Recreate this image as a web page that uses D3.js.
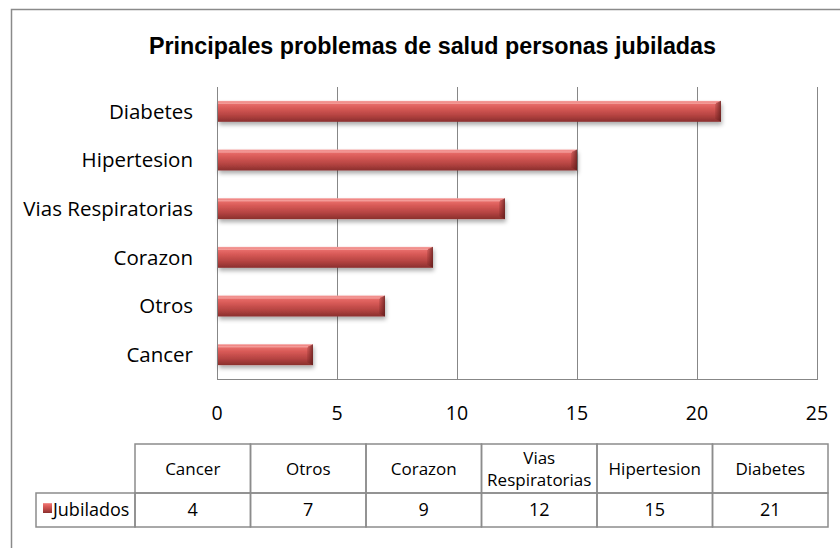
<!DOCTYPE html>
<html>
<head>
<meta charset="utf-8">
<script src="https://cdn.jsdelivr.net/npm/d3@7"></script>
<style>
  body { margin: 0; background: #fff; }
  svg { display: block; }
</style>
</head>
<body>
<div id="container"></div>
<script>
/**
 * CONSTANTS AND GLOBALS
 * */
const width = 840,
  height = 548;

// data (table order, bottom bar first)
const categories = ["Cancer", "Otros", "Corazon", "Vias Respiratorias", "Hipertesion", "Diabetes"];
const jubilados = [4, 7, 9, 12, 15, 21];
const seriesName = "Jubilados";
const xTicks = [0, 5, 10, 15, 20, 25];
const title = "Principales problemas de salud personas jubiladas";

const plot = { left: 217, right: 817, top: 87, bottom: 379 };
const table = { left: 135, right: 828, top: 444, mid: 493, bottom: 527, legendLeft: 36 };

const labelFont = "'Open Sans', 'Noto Sans', sans-serif";

const data = categories.map((c, i) => ({ cat: c, value: jubilados[i] }));

/**
 * SVG
 * */
const svg = d3.select("#container")
  .append("svg")
  .attr("width", width)
  .attr("height", height);

const defs = svg.append("defs");

// vertical gradient for the cylinder look
const grad = defs.append("linearGradient")
  .attr("id", "barGrad")
  .attr("x1", 0).attr("y1", 0).attr("x2", 0).attr("y2", 1);
[
  [0, "#f5a3a1"],
  [0.12, "#ea6f6c"],
  [0.35, "#d85a57"],
  [0.7, "#b44341"],
  [1, "#8a2f2d"]
].forEach(([o, c]) => grad.append("stop").attr("offset", o).attr("stop-color", c));

const capGrad = defs.append("linearGradient")
  .attr("id", "capGrad")
  .attr("x1", 0).attr("y1", 0).attr("x2", 1).attr("y2", 0);
capGrad.append("stop").attr("offset", 0).attr("stop-color", "#6e1f1e").attr("stop-opacity", 0.15);
capGrad.append("stop").attr("offset", 1).attr("stop-color", "#5a1a19").attr("stop-opacity", 0.75);

const shadow = defs.append("filter")
  .attr("id", "shadow")
  .attr("x", "-5%").attr("y", "-30%").attr("width", "110%").attr("height", "180%");
shadow.append("feDropShadow")
  .attr("dx", 1).attr("dy", 3)
  .attr("stdDeviation", 2)
  .attr("flood-color", "#000")
  .attr("flood-opacity", 0.33);

// outer chart border (cut by the window on right and bottom)
svg.append("rect")
  .attr("x", 11.5).attr("y", 9.5)
  .attr("width", 860).attr("height", 600)
  .attr("fill", "none")
  .attr("stroke", "#8a8a8a")
  .attr("stroke-width", 1.5);

// title
svg.append("text")
  .attr("x", (149 + 716) / 2)
  .attr("y", 53.5)
  .attr("text-anchor", "middle")
  .attr("font-family", "'Liberation Sans Narrow', 'Liberation Sans', Arial, sans-serif")
  .attr("font-weight", "bold")
  .attr("font-size", 23)
  .attr("textLength", 567)
  .attr("lengthAdjust", "spacingAndGlyphs")
  .attr("fill", "#000")
  .text(title);

/**
 * SCALES
 * */
const x = d3.scaleLinear()
  .domain([0, 25])
  .range([plot.left, plot.right]);

const y = d3.scaleBand()
  .domain(categories.slice().reverse())
  .range([plot.top, plot.bottom])
  .paddingInner(0.57)
  .paddingOuter(0.285);

// gridlines
svg.append("g")
  .selectAll("line")
  .data(xTicks)
  .join("line")
  .attr("x1", d => Math.round(x(d)) + 0.5)
  .attr("x2", d => Math.round(x(d)) + 0.5)
  .attr("y1", plot.top)
  .attr("y2", plot.bottom)
  .attr("stroke", "#878787")
  .attr("stroke-width", 1);

// bottom line of plot
svg.append("line")
  .attr("x1", x(0)).attr("x2", x(25) + 1)
  .attr("y1", plot.bottom + 0.5).attr("y2", plot.bottom + 0.5)
  .attr("stroke", "#878787");

// tick labels
svg.append("g")
  .selectAll("text")
  .data(xTicks)
  .join("text")
  .attr("x", d => x(d))
  .attr("y", 413)
  .attr("dy", "0.36em")
  .attr("text-anchor", "middle")
  .attr("font-family", labelFont)
  .attr("font-size", 19.5)
  .attr("fill", "#000")
  .text(d => d);

// category labels
svg.append("g")
  .selectAll("text")
  .data(categories)
  .join("text")
  .attr("x", 193)
  .attr("y", d => y(d) + y.bandwidth() / 2)
  .attr("dy", "0.36em")
  .attr("text-anchor", "end")
  .attr("font-family", labelFont)
  .attr("font-size", 20.5)
  .attr("fill", "#000")
  .text(d => d);

// bars
const bars = svg.append("g").selectAll("g.bar")
  .data(data)
  .join("g")
  .attr("class", "bar");

bars.append("rect")
  .attr("x", x(0) + 1)
  .attr("y", d => y(d.cat))
  .attr("width", d => x(d.value) - x(0) - 1)
  .attr("height", y.bandwidth())
  .attr("fill", "url(#barGrad)")
  .attr("filter", "url(#shadow)");

// bevelled right end
bars.append("path")
  .attr("d", d => {
    const xe = x(d.value), y0 = y(d.cat), y1 = y0 + y.bandwidth();
    return `M${xe - 6},${y0 + 3}L${xe},${y0}L${xe},${y1}L${xe - 6},${y1 - 3}Z`;
  })
  .attr("fill", "url(#capGrad)");

// top highlight line
bars.append("line")
  .attr("x1", x(0) + 1)
  .attr("x2", d => x(d.value) - 5)
  .attr("y1", d => y(d.cat) + 2.5)
  .attr("y2", d => y(d.cat) + 2.5)
  .attr("stroke", "#f8b5b3")
  .attr("stroke-opacity", 0.6)
  .attr("stroke-width", 1.5);

/**
 * DATA TABLE
 * */
const tx = d3.scaleBand()
  .domain(categories)
  .range([table.left, table.right]);

const tableG = svg.append("g");
const border = "#8c8c8c";

// header row
tableG.selectAll("rect.head")
  .data(categories)
  .join("rect")
  .attr("class", "head")
  .attr("x", d => tx(d))
  .attr("y", table.top)
  .attr("width", tx.bandwidth())
  .attr("height", table.mid - table.top)
  .attr("fill", "none")
  .attr("stroke", border)
  .attr("stroke-width", 1.5);

// value row
tableG.selectAll("rect.val")
  .data(categories)
  .join("rect")
  .attr("class", "val")
  .attr("x", d => tx(d))
  .attr("y", table.mid)
  .attr("width", tx.bandwidth())
  .attr("height", table.bottom - table.mid)
  .attr("fill", "none")
  .attr("stroke", border)
  .attr("stroke-width", 1.5);

// legend cell
tableG.append("rect")
  .attr("x", table.legendLeft)
  .attr("y", table.mid)
  .attr("width", table.left - table.legendLeft)
  .attr("height", table.bottom - table.mid)
  .attr("fill", "none")
  .attr("stroke", border)
  .attr("stroke-width", 1.5);

tableG.append("rect")
  .attr("x", 43)
  .attr("y", 503)
  .attr("width", 9)
  .attr("height", 10)
  .attr("fill", "url(#barGrad)");

tableG.append("text")
  .attr("x", 53)
  .attr("y", (table.mid + table.bottom) / 2)
  .attr("dy", "0.36em")
  .attr("font-family", labelFont)
  .attr("font-size", 18)
  .attr("fill", "#000")
  .text(seriesName);

// header labels (wrap long ones)
tableG.selectAll("text.head")
  .data(categories)
  .join("text")
  .attr("class", "head")
  .attr("text-anchor", "middle")
  .attr("font-family", labelFont)
  .attr("font-size", 17)
  .attr("fill", "#000")
  .each(function (d) {
    const words = d.split(" ");
    const cx = tx(d) + tx.bandwidth() / 2;
    const cy = (table.top + table.mid) / 2;
    const lh = 22;
    words.forEach((w, i) => {
      d3.select(this).append("tspan")
        .attr("x", cx)
        .attr("y", cy + (i - (words.length - 1) / 2) * lh)
        .attr("dy", "0.36em")
        .text(w);
    });
  });

// values
tableG.selectAll("text.val")
  .data(data)
  .join("text")
  .attr("class", "val")
  .attr("x", d => tx(d.cat) + tx.bandwidth() / 2)
  .attr("y", (table.mid + table.bottom) / 2)
  .attr("dy", "0.36em")
  .attr("text-anchor", "middle")
  .attr("font-family", labelFont)
  .attr("font-size", 18)
  .attr("fill", "#000")
  .text(d => d.value);
</script>
</body>
</html>
